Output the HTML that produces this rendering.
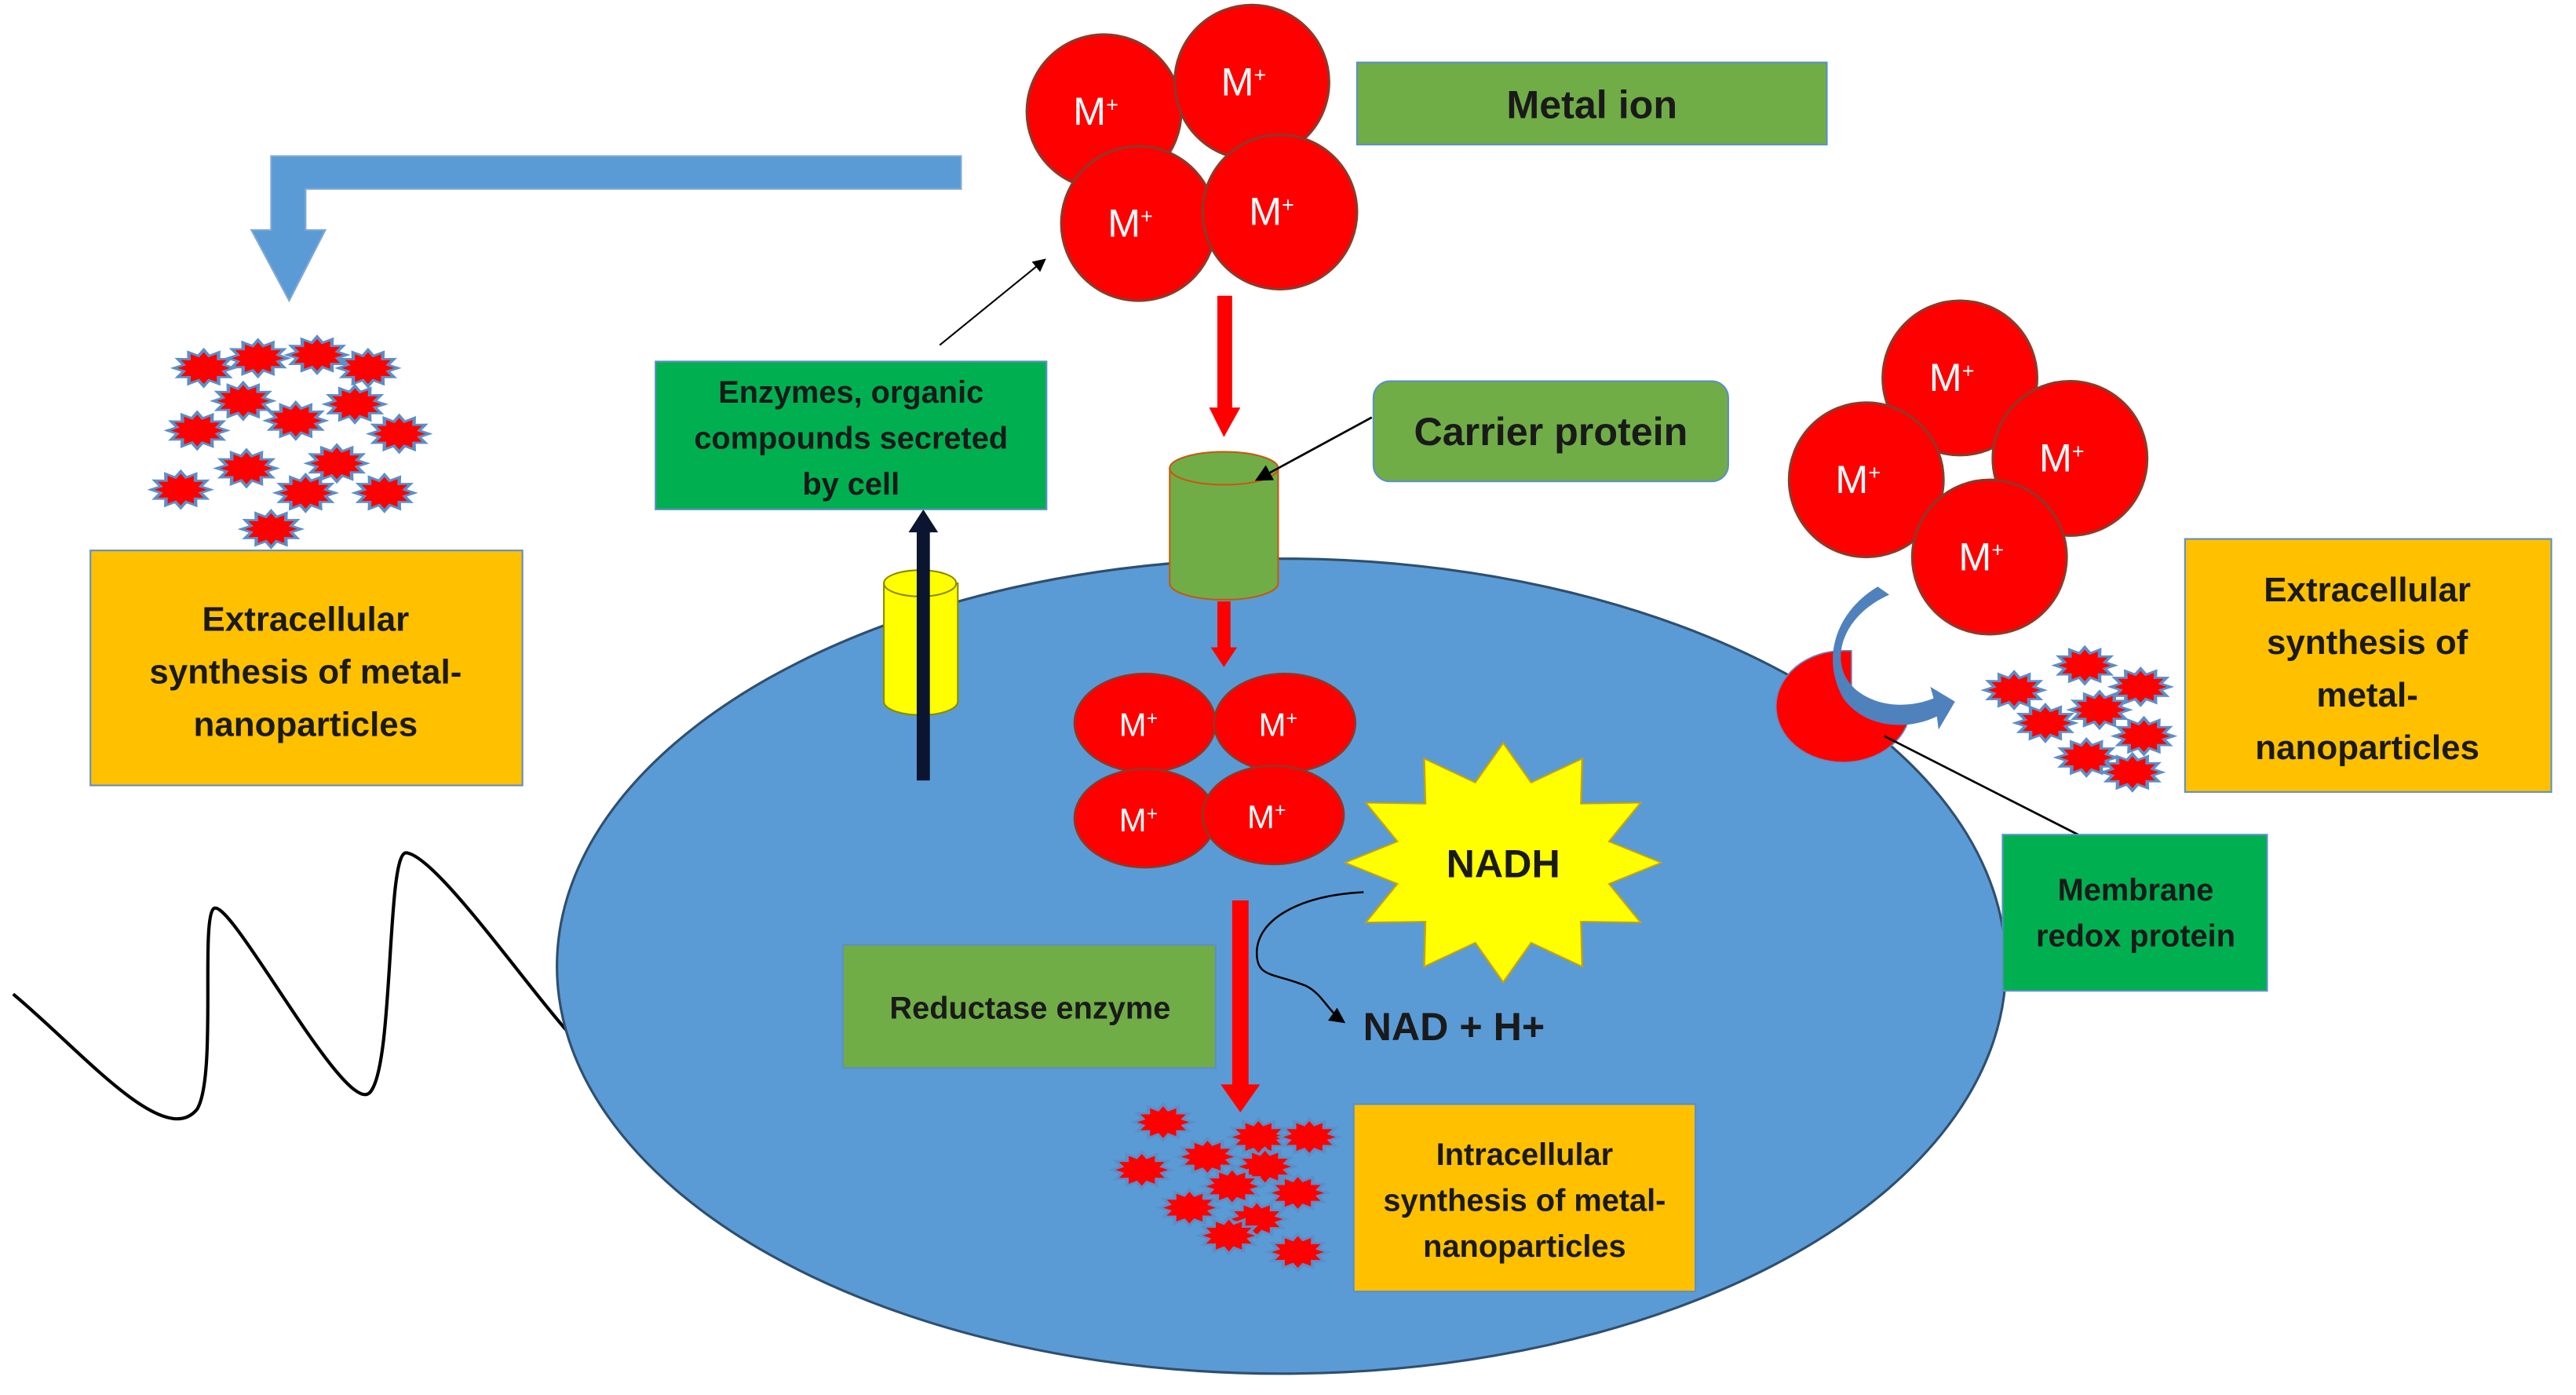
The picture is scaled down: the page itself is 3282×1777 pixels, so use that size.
<!DOCTYPE html>
<html><head><meta charset="utf-8"><style>
html,body{margin:0;padding:0;background:#fff;}
svg{display:block;}
text{font-family:"Liberation Sans",sans-serif;font-weight:bold;}
</style></head><body>
<svg width="3282" height="1777" viewBox="0 0 1568 849" xmlns="http://www.w3.org/2000/svg">
<defs>
<polygon id="st" points="13,0 8.7,2.3 11.3,6.5 6.4,6.4 6.5,11.3 2.3,8.7 0,13 -2.3,8.7 -6.5,11.3 -6.4,6.4 -11.3,6.5 -8.7,2.3 -13,0 -8.7,-2.3 -11.3,-6.5 -6.4,-6.4 -6.5,-11.3 -2.3,-8.7 0,-13 2.3,-8.7 6.5,-11.3 6.4,-6.4 11.3,-6.5 8.7,-2.3"/>
<g id="np"><use href="#st" transform="scale(1.4,0.85)" fill="#FF0000" stroke="#5B8FC8" stroke-width="1.5"/></g>
<marker id="ah" markerWidth="8" markerHeight="8" refX="7" refY="4" orient="auto"><path d="M0,0 L8,4 L0,8 z" fill="#000"/></marker>
</defs>

<!-- wavy line -->
<path d="M8,605 C50,640 100,700 120,675 C132,655 122,560 130,553 C140,545 210,680 225,665 C240,650 235,520 247,519 C265,520 320,600 350,633" fill="none" stroke="#000" stroke-width="2"/>

<!-- cell -->
<ellipse cx="780" cy="588" rx="441" ry="248" fill="#5B9BD5" stroke="#2F4F6F" stroke-width="1.5"/>

<!-- blue bent arrow -->
<path d="M585,95 L585,115 L186,115 L186,140 L198,140 L176,183 L153,140 L165,140 L165,95 Z" fill="#5B9BD5" stroke="#7FA8D8" stroke-width="1"/>

<!-- top metal ions -->
<g fill="#FF0000" stroke="#8B3A2A" stroke-width="1.5">
<circle cx="672" cy="68" r="47"/><circle cx="762" cy="50" r="47"/>
<circle cx="693" cy="136" r="47"/><circle cx="779" cy="129" r="47"/>
</g>
<g fill="#fff" font-size="24" text-anchor="middle">
<text x="667" y="76" style="font-weight:normal">M<tspan font-size="13" dy="-8">+</tspan></text>
<text x="757" y="58" style="font-weight:normal">M<tspan font-size="13" dy="-8">+</tspan></text>
<text x="688" y="144" style="font-weight:normal">M<tspan font-size="13" dy="-8">+</tspan></text>
<text x="774" y="137" style="font-weight:normal">M<tspan font-size="13" dy="-8">+</tspan></text>
</g>

<rect x="826" y="38" width="286" height="50" fill="#70AD47" stroke="#5B8FC8" stroke-width="1"/>
<text x="969" y="72" font-size="24" text-anchor="middle" fill="#1a1a1a">Metal ion</text>

<rect x="741" y="180" width="9" height="70" fill="#FF0000"/>
<path d="M736,248 L755,248 L745,266 Z" fill="#FF0000"/>

<path d="M712,285 L712,355 A33,10 0 0 0 778,355 L778,285 Z" fill="#70AD47" stroke="#C55A11" stroke-width="1"/>
<ellipse cx="745" cy="285" rx="33" ry="10" fill="#70AD47" stroke="#C55A11" stroke-width="1"/>

<rect x="836" y="232" width="216" height="61" rx="10" fill="#70AD47" stroke="#5B8FC8" stroke-width="1"/>
<text x="944" y="271" font-size="24" text-anchor="middle" fill="#1a1a1a">Carrier protein</text>
<line x1="835" y1="254" x2="765" y2="292" stroke="#000" stroke-width="1.3" marker-end="url(#ah)"/>

<rect x="741" y="366" width="8" height="30" fill="#FF0000"/>
<path d="M737,394 L753,394 L745,406 Z" fill="#FF0000"/>

<g fill="#FF0000" stroke="#8B3A2A" stroke-width="1.2">
<ellipse cx="697" cy="440" rx="43" ry="30"/><ellipse cx="782" cy="440" rx="43" ry="30"/>
<ellipse cx="697" cy="498" rx="43" ry="30"/><ellipse cx="775" cy="496" rx="43" ry="30"/>
</g>
<g fill="#fff" font-size="20" text-anchor="middle">
<text x="693" y="448" style="font-weight:normal">M<tspan font-size="12" dy="-7">+</tspan></text>
<text x="778" y="448" style="font-weight:normal">M<tspan font-size="12" dy="-7">+</tspan></text>
<text x="693" y="506" style="font-weight:normal">M<tspan font-size="12" dy="-7">+</tspan></text>
<text x="771" y="504" style="font-weight:normal">M<tspan font-size="12" dy="-7">+</tspan></text>
</g>

<use href="#st" transform="translate(915,525) scale(7.4,5.6)" fill="#FFFF00" stroke="#C9A400" stroke-width="0.15"/>
<text x="915" y="534" font-size="24" text-anchor="middle" fill="#1a1a1a">NADH</text>

<rect x="750" y="548" width="10" height="115" fill="#FF0000"/>
<path d="M743,660 L767,660 L755,677 Z" fill="#FF0000"/>
<path d="M830,543 C790,545 765,560 765,580 C765,595 775,592 795,600 C805,605 808,615 818,622" fill="none" stroke="#000" stroke-width="1.2" marker-end="url(#ah)"/>
<text x="885" y="633" font-size="24" text-anchor="middle" fill="#1a1a1a">NAD + H+</text>

<rect x="513" y="575" width="227" height="75" fill="#70AD47" stroke="#5B8FC8" stroke-width="1"/>
<text x="627" y="620" font-size="19" text-anchor="middle" fill="#1a1a1a">Reductase enzyme</text>

<g>
<use href="#np" x="708" y="683"/><use href="#np" x="766" y="692"/><use href="#np" x="797" y="692"/>
<use href="#np" x="695" y="712"/><use href="#np" x="735" y="704"/><use href="#np" x="770" y="710"/>
<use href="#np" x="750" y="722"/><use href="#np" x="790" y="726"/><use href="#np" x="724" y="735"/>
<use href="#np" x="765" y="742"/><use href="#np" x="748" y="752"/><use href="#np" x="790" y="762"/>
</g>
<rect x="824" y="672" width="208" height="114" fill="#FFC000" stroke="#5B8FC8" stroke-width="1"/>
<g font-size="19" text-anchor="middle" fill="#1a1a1a">
<text x="928" y="709">Intracellular</text><text x="928" y="737">synthesis of metal-</text><text x="928" y="765">nanoparticles</text>
</g>

<path d="M538,355 L538,427 A22,8 0 0 0 583,427 L583,355 Z" fill="#FFFF00" stroke="#8B8B00" stroke-width="1"/>
<ellipse cx="560" cy="355" rx="22" ry="8" fill="#FFFF00" stroke="#8B8B00" stroke-width="1"/>
<rect x="558" y="322" width="8" height="153" fill="#0B1530"/>
<path d="M553,324 L571,324 L562,310 Z" fill="#0B1530"/>

<rect x="399" y="220" width="238" height="90" fill="#00B050" stroke="#5B8FC8" stroke-width="1"/>
<g font-size="19" text-anchor="middle" fill="#1a1a1a">
<text x="518" y="245">Enzymes, organic</text><text x="518" y="273">compounds secreted</text><text x="518" y="301">by cell</text>
</g>
<line x1="572" y1="210" x2="636" y2="158" stroke="#000" stroke-width="1" marker-end="url(#ah)"/>

<g>
<use href="#np" x="124" y="224"/><use href="#np" x="157" y="218"/><use href="#np" x="193" y="216"/><use href="#np" x="224" y="224"/>
<use href="#np" x="148" y="244"/><use href="#np" x="216" y="246"/><use href="#np" x="120" y="262"/><use href="#np" x="180" y="256"/><use href="#np" x="243" y="264"/>
<use href="#np" x="150" y="285"/><use href="#np" x="205" y="282"/><use href="#np" x="110" y="298"/><use href="#np" x="186" y="300"/><use href="#np" x="234" y="300"/>
<use href="#np" x="165" y="322"/>
</g>
<rect x="55" y="335" width="263" height="143" fill="#FFC000" stroke="#5B8FC8" stroke-width="1"/>
<g font-size="21" text-anchor="middle" fill="#1a1a1a">
<text x="186" y="384">Extracellular</text><text x="186" y="416">synthesis of metal-</text><text x="186" y="448">nanoparticles</text>
</g>

<g fill="#FF0000" stroke="#8B3A2A" stroke-width="1.5">
<circle cx="1193" cy="230" r="47"/><circle cx="1136" cy="292" r="47"/>
<circle cx="1260" cy="279" r="47"/><circle cx="1211" cy="339" r="47"/>
</g>
<g fill="#fff" font-size="24" text-anchor="middle">
<text x="1188" y="238" style="font-weight:normal">M<tspan font-size="13" dy="-8">+</tspan></text>
<text x="1131" y="300" style="font-weight:normal">M<tspan font-size="13" dy="-8">+</tspan></text>
<text x="1255" y="287" style="font-weight:normal">M<tspan font-size="13" dy="-8">+</tspan></text>
<text x="1206" y="347" style="font-weight:normal">M<tspan font-size="13" dy="-8">+</tspan></text>
</g>

<path d="M1122,396 A41,34 0 1 0 1163,430 L1127,430 L1127,396 Z" fill="#FF0000" stroke="#5B8FC8" stroke-width="0.8"/>
<path d="M1150,362 C1120,375 1112,405 1130,420 C1145,432 1165,430 1177,425 L1175,418 L1190,427 L1180,444 L1179,436 C1160,445 1135,443 1122,425 C1108,400 1118,372 1143,357 Z" fill="#4F81BD"/>
<line x1="1147" y1="448" x2="1265" y2="508" stroke="#000" stroke-width="1.3"/>

<g>
<use href="#np" x="1269" y="405"/><use href="#np" x="1226" y="420"/><use href="#np" x="1303" y="418"/>
<use href="#np" x="1278" y="432"/><use href="#np" x="1245" y="440"/><use href="#np" x="1305" y="448"/>
<use href="#np" x="1270" y="461"/><use href="#np" x="1298" y="470"/>
</g>
<rect x="1330" y="328" width="223" height="154" fill="#FFC000" stroke="#5B8FC8" stroke-width="1"/>
<g font-size="21" text-anchor="middle" fill="#1a1a1a">
<text x="1441" y="366">Extracellular</text><text x="1441" y="398">synthesis of</text><text x="1441" y="430">metal-</text><text x="1441" y="462">nanoparticles</text>
</g>

<rect x="1219" y="508" width="161" height="95" fill="#00B050" stroke="#5B8FC8" stroke-width="1"/>
<g font-size="19" text-anchor="middle" fill="#1a1a1a">
<text x="1300" y="548">Membrane</text><text x="1300" y="576">redox protein</text>
</g>
</svg>
</body></html>
